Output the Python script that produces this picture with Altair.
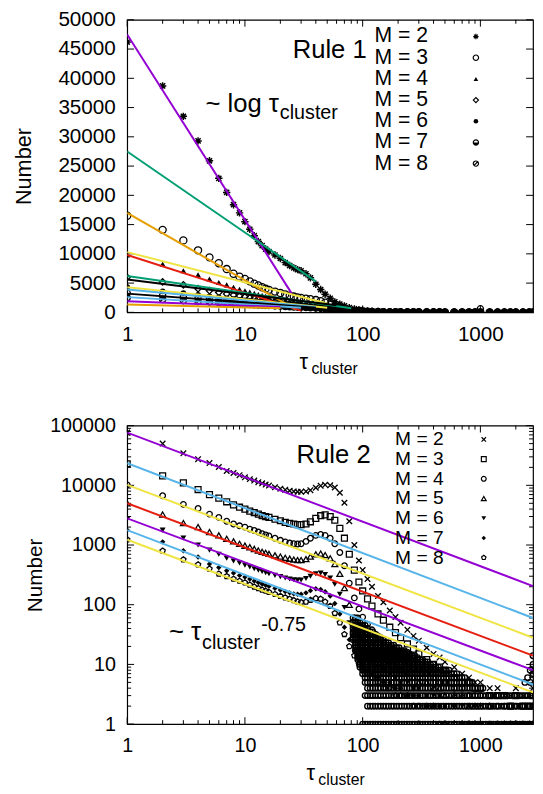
import altair as alt
import pandas as pd

FONT = "Liberation Sans"

# ---------------- data ----------------
TAU = [1, 2, 3, 4, 5, 6, 7, 8, 9, 10,
       11, 12, 13, 14, 15, 16, 18, 20, 22, 24,
       26, 28, 30, 33, 36, 40, 44, 48, 53, 58,
       64, 70, 77, 85, 93, 100, 110, 120, 135, 150,
       170, 190, 210, 240, 270, 300, 350, 400, 450, 500,
       600, 700, 800, 900, 1000, 1200, 1400, 1600, 1800, 2000,
       2300, 2600, 2800]

# Rule 1 (top panel)
R1_M2 = [46200, 38700, 33500, 29300, 25900, 22900, 20500, 18400, 17000, 15500,
         14200, 13100, 12100, 11400, 10800, 10400, 9800, 9200, 8500, 8000,
         7600, 7300, 7100, 6600, 5900, 4800, 3900, 3100, 2400, 1800,
         1400, 1100, 800, 600, 450, 350, 260, 200, 150, 120,
         90, 70, 60, 50, 40, 30, 25, 20, 18, 15,
         12, 10, 9, 8, 7, 6, 5, 5, 4, 4,
         3, 3, 3]
R1_M3 = [16500, 14100, 12300, 10600, 9400, 8400, 7400, 6600, 6100, 5700,
         5300, 4900, 4600, 4300, 4050, 3850, 3550, 3300, 3050, 2850,
         2700, 2550, 2450, 2350, 2250, 2100, 1900, 1650, 1350, 1050,
         750, 550, 380, 260, 180, 140, 100, 80, 60, 45,
         35, 28, 22, 18, 15, 12, 10, 8, 7, 6,
         5, 4, 4, 3, 3, 3, 2, 2, 2, 2,
         2, 2, 2]
R1_M4 = [9800, 8250, 7100, 6400, 5700, 5100, 4700, 4300, 3950, 3700,
         3450, 3250, 3050, 2900, 2750, 2600, 2400, 2200, 2050, 1900,
         1800, 1700, 1600, 1500, 1400, 1250, 1100, 950, 800, 650,
         500, 380, 280, 200, 150, 120, 90, 70, 50, 40,
         30, 24, 20, 16, 13, 11, 9, 7, 6, 5,
         4, 4, 3, 3, 3, 2, 2, 2, 2, 2,
         1, 1, 1]
R1_M5 = [6000, 5200, 4700, 4050, 3700, 3400, 3150, 2950, 2800, 2650,
         2500, 2380, 2270, 2170, 2080, 2000, 1850, 1720, 1600, 1500,
         1420, 1350, 1290, 1200, 1120, 1020, 920, 820, 700, 600,
         480, 380, 300, 220, 170, 130, 100, 80, 60, 45,
         35, 28, 22, 18, 15, 12, 10, 8, 7, 6,
         5, 4, 4, 3, 3, 3, 2, 2, 2, 2,
         2, 1, 1]
R1_M6 = [4300, 3600, 3300, 3000, 2750, 2550, 2400, 2250, 2150, 2050,
         1950, 1870, 1800, 1730, 1670, 1610, 1510, 1420, 1340, 1270,
         1210, 1150, 1100, 1030, 970, 890, 810, 740, 650, 560,
         460, 370, 290, 220, 170, 130, 100, 80, 60, 45,
         35, 28, 22, 18, 15, 12, 10, 8, 7, 6,
         5, 4, 4, 3, 3, 3, 2, 2, 2, 2,
         2, 1, 1]
R1_M7 = [3300, 2900, 2650, 2450, 2300, 2150, 2050, 1950, 1850, 1780,
         1700, 1640, 1580, 1530, 1480, 1430, 1350, 1280, 1210, 1150,
         1100, 1050, 1010, 950, 900, 830, 760, 700, 620, 540,
         450, 370, 290, 220, 170, 130, 100, 80, 60, 45,
         35, 28, 22, 18, 15, 12, 10, 8, 7, 6,
         5, 4, 4, 3, 600, 3, 2, 2, 2, 2,
         2, 1, 1]
R1_M8 = [2500, 2200, 2000, 1850, 1750, 1650, 1570, 1500, 1440, 1390,
         1340, 1300, 1260, 1220, 1190, 1160, 1100, 1050, 1000, 960,
         920, 890, 860, 820, 780, 730, 680, 630, 570, 510,
         440, 370, 300, 240, 190, 150, 110, 85, 65, 50,
         40, 30, 24, 20, 16, 13, 11, 9, 8, 7,
         6, 5, 4, 4, 3, 3, 3, 2, 2, 2,
         2, 2, 1]

# Rule 1 fit lines (log-law fits): start/end points
R1_LINE_COLOR = ["#9400D3", "#009E73", "#E69F00", "#F0E442", "#E51E10", "#009E73", "#000000",
                 "#F0E442", "#56B4E9", "#000000", "#56B4E9", "#9400D3", "#E69F00"]
R1_LINE_T0 = [1, 1, 1, 1, 1, 1, 1, 1, 1, 1, 1, 1, 1]
R1_LINE_Y0 = [47500, 27500, 17000, 10300, 9800, 6200, 5600, 4300, 3900, 3200, 2600, 1900, 1350]
R1_LINE_T1 = [25, 40, 27, 50, 30, 80, 60, 50, 40, 40, 30, 20, 20]
R1_LINE_Y1 = [3200, 5300, 500, 1500, 300, 700, 1200, 800, 900, 800, 800, 900, 700]

# Rule 2 (bottom panel)
R2_M2 = [76500, 50000, 34400, 27400, 23600, 20300, 17400, 16100, 14800, 13600,
         12700, 12000, 11300, 10800, 10300, 9900, 9300, 8800, 8400, 8100,
         7900, 7800, 7800, 7900, 8300, 9100, 9800, 10200, 10000, 9200,
         7500, 5100, 2500, 1000, 550, 380, 270, 200, 140, 110,
         80, 62, 50, 38, 30, 25, 19, 15, 13, 11,
         9, 7, 6, 5, 5, 4, 4, 3, 3, 4,
         3, 3, 4]
R2_M3 = [23000, 14400, 11000, 8500, 7000, 6100, 5300, 4700, 4300, 4000,
         3700, 3500, 3300, 3100, 3000, 2900, 2700, 2550, 2400, 2300,
         2250, 2200, 2200, 2250, 2450, 2800, 3100, 3200, 3000, 2600,
         1900, 1300, 700, 380, 240, 170, 125, 95, 70, 55,
         42, 34, 28, 22, 18, 15, 12, 10, 9, 8,
         6, 5, 5, 4, 4, 3, 3, 3, 2, 3,
         2, 2, 3]
R2_M4 = [10200, 6700, 4800, 4100, 3300, 2900, 2500, 2250, 2100, 2000,
         1850, 1750, 1650, 1550, 1480, 1420, 1300, 1200, 1130, 1080,
         1050, 1040, 1050, 1150, 1300, 1450, 1500, 1450, 1300, 1050,
         750, 450, 230, 130, 85, 62, 47, 38, 30, 24,
         19, 16, 13, 11, 9, 8, 7, 6, 5, 5,
         4, 4, 3, 3, 3, 2, 2, 2, 2, 2,
         2, 2, 2]
R2_M5 = [5000, 3250, 2330, 2000, 1650, 1450, 1270, 1150, 1050, 975,
         920, 860, 810, 770, 740, 710, 670, 640, 610, 590,
         570, 560, 560, 580, 640, 700, 720, 680, 600, 480,
         330, 190, 100, 60, 40, 30, 24, 20, 16, 13,
         11, 9, 8, 7, 6, 5, 5, 4, 4, 3,
         3, 3, 2, 2, 2, 2, 1, 1, 1, 1,
         1, 1, 1]
R2_M6 = [2700, 1780, 1310, 1000, 820, 700, 600, 540, 500, 460,
         430, 400, 380, 360, 345, 330, 310, 295, 280, 270,
         262, 258, 260, 275, 300, 330, 340, 320, 280, 220,
         150, 90, 50, 30, 21, 16, 13, 11, 9, 8,
         7, 6, 5, 5, 4, 4, 3, 3, 3, 2,
         2, 2, 2, 2, 1, 1, 1, 1, 1, 1,
         1, 1, 1]
R2_M7 = [1780, 1130, 800, 630, 480, 420, 370, 340, 310, 290,
         270, 250, 235, 222, 212, 203, 188, 176, 166, 158,
         152, 150, 150, 158, 172, 185, 180, 165, 140, 105,
         70, 42, 26, 17, 13, 10, 8, 7, 6, 5,
         5, 4, 4, 3, 3, 3, 2, 2, 2, 2,
         2, 1, 1, 1, 1, 1, 1, 1, 1, 1,
         1, 1, 1]
R2_M8 = [1230, 800, 570, 470, 400, 330, 300, 270, 250, 235,
         215, 200, 188, 178, 170, 162, 150, 140, 132, 125,
         118, 113, 110, 112, 120, 128, 125, 112, 95, 72,
         50, 32, 20, 14, 10, 8, 7, 6, 5, 4,
         4, 3, 3, 3, 2, 2, 2, 2, 1, 1,
         1, 1, 1, 1, 1, 1, 1, 1, 1, 1,
         1, 1, 1]

# Rule 2 fit lines (~ tau^-0.75), values read at tau = 1 and tau = 2800
R2_LINE_COLOR = ["#9400D3", "#56B4E9", "#F0E442", "#E51E10", "#9400D3", "#56B4E9", "#F0E442"]
R2_LINE_Y0 = [76500, 23400, 10200, 5000, 2800, 1780, 1230]
R2_LINE_Y1 = [205, 60, 28, 14, 8, 4.6, 3.4]

# dense low-count region of Rule 2 (integer counts at long tau): level and tau extent
CLOUD_TAU = [75, 79, 83, 87, 91, 95, 100, 105, 110, 116, 122, 128, 135, 142, 150, 158, 166,
             175, 184, 194, 204, 215, 226, 238, 250, 263, 277, 292, 307, 323, 340, 358, 377,
             397, 418, 440, 463, 487, 513, 540, 568, 598, 630, 663, 698, 735, 773, 814, 857,
             902, 950, 1000, 1050, 1110, 1170, 1230, 1290, 1360, 1430, 1510, 1590, 1670, 1760,
             1850, 1950, 2050, 2160, 2270, 2390, 2520, 2650, 2800]
CLOUD_LEVEL = [60, 50, 45, 40, 35, 32, 28, 26, 23, 21, 19, 17, 16, 15, 14, 13, 12, 11, 10,
               9, 8, 7, 6, 5, 4, 3, 2, 1]
CLOUD_FROM = [83, 83, 83, 83, 83, 83, 83, 83, 87, 87, 87, 87, 91, 91, 91, 91, 91, 95, 95,
              95, 100, 100, 105, 105, 110, 105, 110, 100]
CLOUD_TO = [91, 100, 105, 110, 122, 128, 142, 150, 166, 184, 204, 226, 238, 250, 277, 292, 323,
            358, 397, 440, 540, 630, 735, 857, 1050, 2800, 2800, 2800]
EDGE_TAU = [2390, 2520, 2650, 2800, 2800, 2650, 2800]
EDGE_VAL = [5, 6, 8, 10, 14, 5, 7]

# ---------------- helpers ----------------
W = 412
H1 = 297
H2 = 303
XS = alt.Scale(type="log", domain=[1, 2800], nice=False)
YS1 = alt.Scale(type="linear", domain=[0, 50000], nice=False, zero=False)
YS2 = alt.Scale(type="log", domain=[1, 100000], nice=False)

ASTER = "M-1,0L1,0M0,-1L0,1M-0.7,-0.7L0.7,0.7M-0.7,0.7L0.7,-0.7"
CROSS = "M-1,-1L1,1M-1,1L1,-1"
HALF = "M-1,0A1,1,0,0,0,1,0Z"
SLASH_CIRC = "M-1,0A1,1,0,1,1,1,0A1,1,0,1,1,-1,0ZM-0.7,0.7L0.7,-0.7"
PENT = "M0,-1L0.95,-0.31L0.59,0.81L-0.59,0.81L-0.95,-0.31Z"

X_MAJ = [1, 10, 100, 1000]
X_MIN = [2, 3, 4, 5, 6, 7, 8, 9, 20, 30, 40, 50, 60, 70, 80, 90,
         200, 300, 400, 500, 600, 700, 800, 900, 2000]


def series_df(vals):
    rows = [(t, v) for t, v in zip(TAU, vals) if v > 0]
    return pd.DataFrame(rows, columns=["t", "v"])


def pts(df, ys, shape, size, filled, sw=1.3):
    return alt.Chart(df).mark_point(
        shape=shape, size=size, filled=filled, strokeWidth=sw, clip=True,
        color="black", opacity=1).encode(
        x=alt.X("t:Q", scale=XS, axis=None),
        y=alt.Y("v:Q", scale=ys, axis=None))


def lines_df(t0, y0, t1, y1, colors):
    rows = []
    for i in range(len(colors)):
        rows.append((i, t0[i], y0[i], colors[i]))
        rows.append((i, t1[i], y1[i], colors[i]))
    return pd.DataFrame(rows, columns=["id", "t", "v", "c"])


def fit_lines(df, ys, sw=2):
    return alt.Chart(df).mark_line(strokeWidth=sw, clip=True).encode(
        x=alt.X("t:Q", scale=XS, axis=None),
        y=alt.Y("v:Q", scale=ys, axis=None),
        detail="id:N",
        color=alt.Color("c:N", scale=None))


def txt(s, x, y, size, align="left", baseline="alphabetic"):
    return alt.Chart(pd.DataFrame({"s": [s]})).mark_text(
        font=FONT, fontSize=size, align=align, baseline=baseline, color="black"
    ).encode(text="s:N", x=alt.value(x), y=alt.value(y))


def sym(x, y, shape, size, filled):
    return alt.Chart(pd.DataFrame({"a": [0]})).mark_point(
        shape=shape, size=size, filled=filled, strokeWidth=1.2, color="black",
        opacity=1).encode(x=alt.value(x), y=alt.value(y))


def xticks(values, length, h):
    df = pd.DataFrame({"t": values})
    out = []
    for y0, y1 in [(h - length, h), (0, length)]:
        out.append(alt.Chart(df).mark_rule(color="black", strokeWidth=1).encode(
            x=alt.X("t:Q", scale=XS, axis=None), y=alt.value(y0), y2=alt.value(y1)))
    return out


def yticks(values, length, ys):
    df = pd.DataFrame({"v": values})
    out = []
    for x0, x1 in [(0, length), (W - length, W)]:
        out.append(alt.Chart(df).mark_rule(color="black", strokeWidth=1).encode(
            y=alt.Y("v:Q", scale=ys, axis=None), x=alt.value(x0), x2=alt.value(x1)))
    return out


def label_layer(ys, y_major, label_size, title_size, title_pad):
    base = pd.DataFrame({"t": [1.0], "v": [1.0]})
    xlab = alt.Axis(orient="bottom", values=X_MAJ, format="d", labelFont=FONT,
                    labelFontSize=label_size, labelColor="black", ticks=False, domain=False,
                    grid=False, labelPadding=12, title=None, labelFlush=False,
                    labelOverlap=False)
    ylab = alt.Axis(orient="left", values=y_major, format="d", labelFont=FONT,
                    labelFontSize=label_size, labelColor="black", ticks=False, domain=False,
                    grid=False, labelPadding=12, labelFlush=False, labelOverlap=False,
                    title="Number", titleFont=FONT, titleFontSize=title_size,
                    titleFontWeight="normal", titleColor="black", titlePadding=title_pad)
    return alt.Chart(base).mark_point(opacity=0).encode(
        x=alt.X("t:Q", scale=XS, axis=xlab), y=alt.Y("v:Q", scale=ys, axis=ylab))


# ---------------- top panel (Rule 1) ----------------
Y1_MAJ = list(range(0, 50001, 5000))
top_layers = [label_layer(YS1, Y1_MAJ, 21, 22, 23)]
top_layers += xticks(X_MAJ, 7, H1) + xticks(X_MIN, 4, H1) + yticks(Y1_MAJ, 7, YS1)
top_layers += [
    pts(series_df(R1_M8), YS1, SLASH_CIRC, 40, False),
    pts(series_df(R1_M7), YS1, "circle", 40, False),
    pts(series_df(R1_M7), YS1, HALF, 40, True),
    pts(series_df(R1_M6), YS1, "circle", 34, True),
    pts(series_df(R1_M5), YS1, "diamond", 42, False),
    pts(series_df(R1_M4), YS1, "triangle-up", 36, True),
    pts(series_df(R1_M3), YS1, "circle", 52, False),
    pts(series_df(R1_M2), YS1, ASTER, 56, False, sw=1.5),
    fit_lines(lines_df(R1_LINE_T0, R1_LINE_Y0, R1_LINE_T1, R1_LINE_Y1, R1_LINE_COLOR), YS1),
]
top_layers += [
    txt("Rule 1", 168, 39, 26),
    txt("~ log τ", 154, 94, 26, align="right"),
    txt("cluster", 155, 101, 20),
    txt("τ", 175, H1 + 58, 22),
    txt("cluster", 187, H1 + 63, 16),
]
TOP_LEG_Y = [17, 38.5, 60, 81.5, 103, 124.5, 146]
LEG_T = ["M = 2", "M = 3", "M = 4", "M = 5", "M = 6", "M = 7", "M = 8"]
for yy, tt in zip(TOP_LEG_Y, LEG_T):
    top_layers.append(txt(tt, 251, yy, 21.5, baseline="middle"))
top_layers += [
    sym(354, TOP_LEG_Y[0], ASTER, 30, False),
    sym(354, TOP_LEG_Y[1], "circle", 30, False),
    sym(354, TOP_LEG_Y[2], "triangle-up", 22, True),
    sym(354, TOP_LEG_Y[3], "diamond", 28, False),
    sym(354, TOP_LEG_Y[4], "circle", 22, True),
    sym(354, TOP_LEG_Y[5], "circle", 28, False),
    sym(354, TOP_LEG_Y[5], HALF, 28, True),
    sym(354, TOP_LEG_Y[6], SLASH_CIRC, 28, False),
]
top = alt.layer(*top_layers).resolve_axis(x="independent", y="independent").properties(
    width=W, height=H1)

# ---------------- bottom panel (Rule 2) ----------------
Y2_MAJ = [1, 10, 100, 1000, 10000, 100000]
Y2_MIN = [m * d for d in [1, 10, 100, 1000, 10000] for m in range(2, 10)]

cloud_rows = []
for lev, a, b in zip(CLOUD_LEVEL, CLOUD_FROM, CLOUD_TO):
    for t in CLOUD_TAU:
        if a <= t <= b:
            cloud_rows.append((t, lev))
for t, v in zip(EDGE_TAU, EDGE_VAL):
    cloud_rows.append((t, v))
cloud_df = pd.DataFrame(cloud_rows, columns=["t", "v"])

bot_layers = [label_layer(YS2, Y2_MAJ, 20, 21, 4)]
bot_layers += xticks(X_MAJ, 7, H2) + xticks(X_MIN, 4, H2)
bot_layers += yticks(Y2_MAJ, 7, YS2) + yticks(Y2_MIN, 4, YS2)
bot_layers += [
    pts(cloud_df, YS2, "circle", 32, False, sw=1.4),
    pts(series_df(R2_M8), YS2, PENT, 32, False),
    pts(series_df(R2_M7), YS2, "diamond", 30, True),
    pts(series_df(R2_M6), YS2, "triangle-down", 36, True),
    pts(series_df(R2_M5), YS2, "triangle-up", 36, False),
    pts(series_df(R2_M4), YS2, "circle", 32, False),
    pts(series_df(R2_M3), YS2, "square", 36, False),
    pts(series_df(R2_M2), YS2, CROSS, 32, False),
    fit_lines(lines_df([1] * 7, R2_LINE_Y0, [2800] * 7, R2_LINE_Y1, R2_LINE_COLOR), YS2),
]
bot_layers += [
    txt("Rule 2", 172, 38, 26),
    txt("~ τ", 75, 218, 26, align="right"),
    txt("cluster", 76, 227, 20),
    txt("-0.75", 136, 208, 20),
    txt("τ", 182, H2 + 57, 22),
    txt("cluster", 194, H2 + 62, 16),
]
BOT_LEG_Y = [14, 34, 54, 74, 94, 114, 134]
for yy, tt in zip(BOT_LEG_Y, LEG_T):
    bot_layers.append(txt(tt, 272, yy, 19.5, baseline="middle"))
bot_layers += [
    sym(362, BOT_LEG_Y[0], CROSS, 20, False),
    sym(362, BOT_LEG_Y[1], "square", 24, False),
    sym(362, BOT_LEG_Y[2], "circle", 24, False),
    sym(362, BOT_LEG_Y[3], "triangle-up", 24, False),
    sym(362, BOT_LEG_Y[4], "triangle-down", 24, True),
    sym(362, BOT_LEG_Y[5], "diamond", 20, True),
    sym(362, BOT_LEG_Y[6], PENT, 22, False),
]
bottom = alt.layer(*bot_layers).resolve_axis(x="independent", y="independent").properties(
    width=W, height=H2)

chart = alt.vconcat(top, bottom, spacing=37).configure_view(
    stroke="black", strokeWidth=1.2).properties(
    padding={"left": 4, "top": -6, "right": 0, "bottom": 0})

chart.save("out.html", embed_options={"renderer": "svg", "actions": False})
